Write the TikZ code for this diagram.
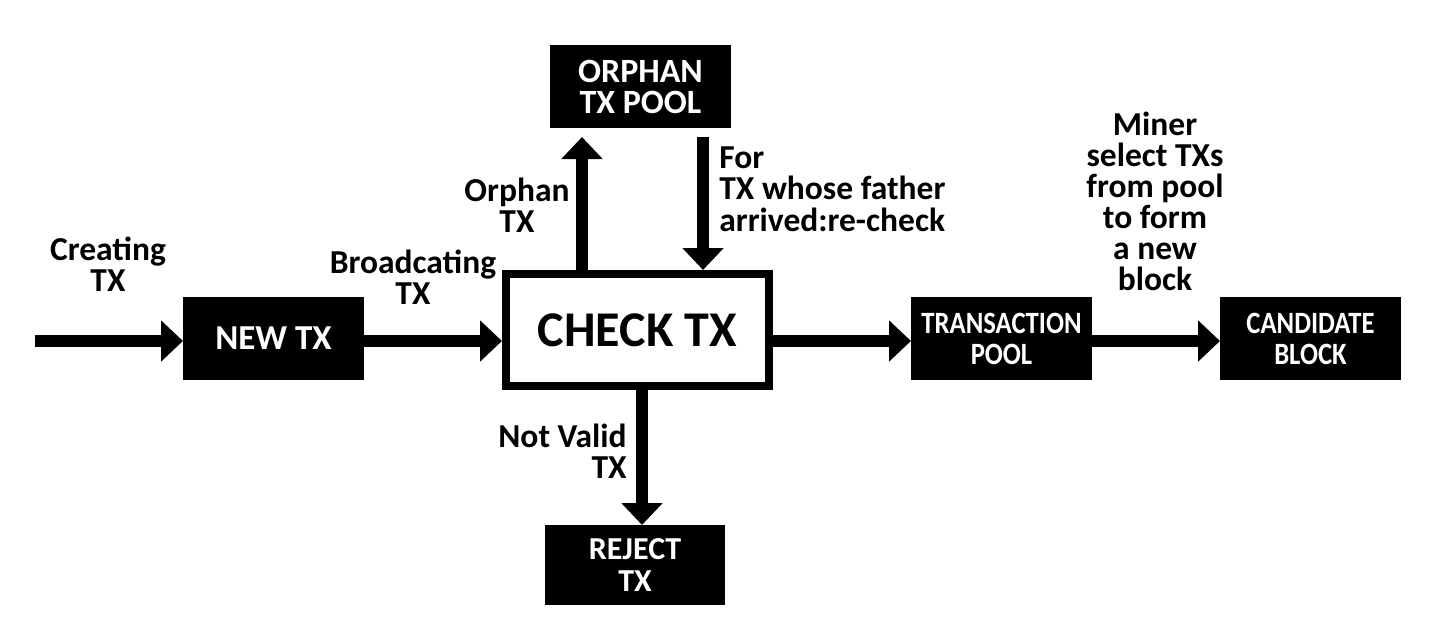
\documentclass[tikz,border=0pt]{standalone}
\usepackage{fontspec}
\setmainfont{Carlito}
\newfontfamily\condfont[FakeStretch=0.86]{Carlito}
\usetikzlibrary{arrows.meta}
\begin{document}
\begin{tikzpicture}[x=0.5pt,y=-0.5pt,
  blk/.style={fill=black,text=white,inner sep=0pt,outer sep=0pt,align=center},
  lbl/.style={font=\fontsize{16.75}{15.75}\selectfont\bfseries,inner sep=0pt},
  arr/.style={line width=6pt,-{Triangle[width=20pt,length=11pt]}}]
\useasboundingbox (0,0) rectangle (1438,621);
% boxes
\node[blk,minimum width=90.5pt,minimum height=41.5pt,font=\fontsize{17.5}{18}\selectfont\bfseries] (newtx) at (273.5,338.5) {NEW TX};
\node[draw=black,line width=4pt,minimum width=131.5pt,minimum height=56pt,inner sep=0pt,font=\fontsize{25}{26}\selectfont\bfseries] (check) at (637.5,330) {CHECK TX};
\node[blk,minimum width=90.5pt,minimum height=41.5pt,font=\fontsize{17}{15.5}\selectfont\bfseries] (orphan) at (640.5,86.5) {ORPHAN\\TX POOL};
\node[blk,minimum width=90pt,minimum height=40pt,font=\fontsize{16}{16}\selectfont\bfseries] (reject) at (635,565) {REJECT\\TX};
\node[blk,minimum width=90.5pt,minimum height=41.5pt,font=\condfont\fontsize{15.5}{15.5}\selectfont\bfseries] (txpool) at (1001.5,338.5) {TRANSACTION\\POOL};
\node[blk,minimum width=90.5pt,minimum height=41.5pt,font=\condfont\fontsize{15.5}{15.5}\selectfont\bfseries] (cand) at (1310.5,338.5) {CANDIDATE\\BLOCK};
% helper coordinates
\coordinate (row) at (0,341);
\coordinate (start) at (35,341);
\coordinate (upend) at (582,137);
\coordinate (dnstart) at (703,137);
\coordinate (rj) at (642,0);
% connectors
\draw[arr] (start) -- (newtx.west |- row);
\draw[arr] (newtx.east |- row) -- (check.west |- row);
\draw[arr] (check.east |- row) -- (txpool.west |- row);
\draw[arr] (txpool.east |- row) -- (cand.west |- row);
\draw[arr] (check.north -| upend) -- (upend);
\draw[arr] (dnstart) -- (dnstart |- check.north);
\draw[arr] (check.south -| rj) -- (reject.north -| rj);
% labels
\node[lbl,align=center] (l1) at (108,264) {Creating\\TX};
\node[lbl,align=center] (l2) at (413,277) {Broadcating\\TX};
\node[lbl,align=center] (l3) at (517,205) {Orphan\\TX};
\node[lbl,align=left,anchor=west] (l4) at (719,189) {For\\TX whose father\\arrived:re-check};
\node[lbl,align=right,anchor=east] (l5) at (627,451) {Not Valid\\TX};
\node[lbl,align=center,font=\fontsize{16.75}{15.5}\selectfont\bfseries] (l6) at (1155,201) {Miner\\select TXs\\from pool\\to form\\a new\\block};
\end{tikzpicture}
\end{document}
